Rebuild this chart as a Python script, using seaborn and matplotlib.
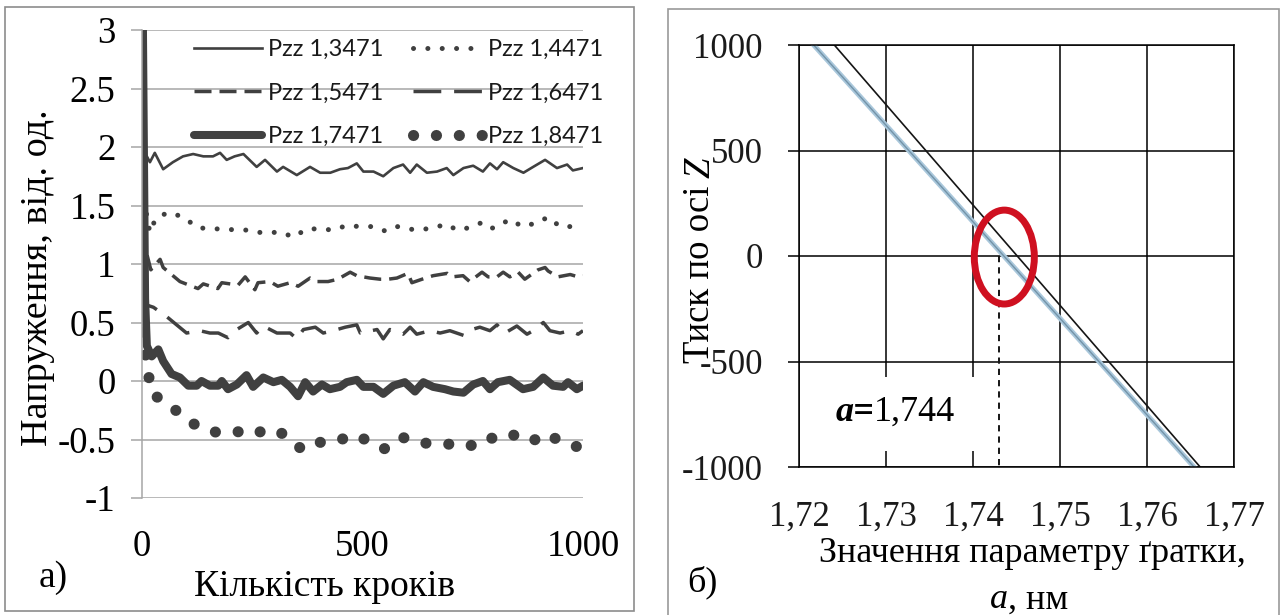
import numpy as np
import pandas as pd
import matplotlib
matplotlib.use("Agg")
import matplotlib.pyplot as plt
import seaborn as sns
from matplotlib import font_manager as fm
from matplotlib.font_manager import FontProperties
from matplotlib.patches import Ellipse, Rectangle

# ---------------- data: panel a) ----------------
steps_1 = [0, 5, 11, 18, 29, 48, 70, 93, 116, 139, 161, 177, 192, 210, 230, 260, 279, 306, 320, 351,
           381, 404, 427, 449, 467, 487, 502, 525, 547, 570, 592, 608, 623, 646, 669, 691, 706, 729, 751, 773,
           789, 805, 819, 842, 865, 887, 914, 941, 964, 977, 1000]
pzz_1 = [4.0, 1.6, 1.92, 1.87, 1.95, 1.81, 1.87, 1.92, 1.94, 1.92, 1.92, 1.95, 1.89, 1.92, 1.94, 1.83, 1.89, 1.79, 1.83, 1.76,
         1.83, 1.78, 1.78, 1.81, 1.82, 1.86, 1.79, 1.79, 1.75, 1.82, 1.85, 1.78, 1.85, 1.78, 1.79, 1.82, 1.76, 1.82, 1.84, 1.79,
         1.86, 1.81, 1.87, 1.82, 1.78, 1.83, 1.89, 1.82, 1.85, 1.80, 1.82]

steps_2 = [0, 5, 11, 18, 30, 45, 67, 97, 127, 158, 185, 215, 243, 267, 295, 317, 343, 374, 405, 433, 465,
           492, 524, 553, 580, 603, 628, 660, 691, 714, 742, 768, 789, 812, 832, 864, 893, 921, 948, 975, 1000]
pzz_2 = [4.0, 1.6, 1.40, 1.27, 1.38, 1.42, 1.44, 1.39, 1.31, 1.30, 1.30, 1.29, 1.29, 1.27, 1.27, 1.27, 1.23, 1.30, 1.30, 1.29, 1.33,
         1.32, 1.32, 1.28, 1.32, 1.30, 1.29, 1.31, 1.34, 1.29, 1.31, 1.35, 1.30, 1.33, 1.38, 1.32, 1.35, 1.40, 1.32, 1.32, 1.33]

steps_3 = [0, 5, 10, 20, 41, 48, 86, 127, 139, 172, 181, 218, 234, 256, 263, 290, 308, 336, 354, 381,
           397, 422, 444, 472, 487, 517, 540, 558, 578, 603, 612, 635, 660, 692, 703, 728, 743, 771, 785, 805,
           819, 834, 853, 868, 898, 914, 921, 943, 971, 989, 1000]
pzz_3 = [4.0, 0.7, 1.1, 0.95, 1.04, 0.97, 0.85, 0.79, 0.83, 0.79, 0.84, 0.82, 0.89, 0.78, 0.84, 0.85, 0.81, 0.84, 0.81, 0.88,
         0.85, 0.85, 0.87, 0.93, 0.90, 0.88, 0.87, 0.87, 0.88, 0.92, 0.84, 0.87, 0.90, 0.92, 0.89, 0.90, 0.85, 0.93, 0.89, 0.89,
         0.93, 0.89, 0.93, 0.87, 0.95, 0.97, 0.94, 0.89, 0.91, 0.89, 0.90]

steps_4 = [0, 5, 10, 26, 56, 101, 131, 154, 173, 195, 215, 241, 260, 275, 306, 336, 351, 366, 393, 411,
           433, 461, 487, 495, 533, 547, 562, 592, 608, 623, 653, 676, 698, 729, 748, 766, 789, 805, 823, 850,
           873, 887, 910, 925, 948, 971, 989, 1000]
pzz_4 = [4.0, 0.5, 0.65, 0.63, 0.55, 0.41, 0.43, 0.41, 0.41, 0.37, 0.44, 0.50, 0.41, 0.47, 0.41, 0.41, 0.36, 0.44, 0.46, 0.41,
         0.43, 0.46, 0.48, 0.41, 0.44, 0.36, 0.44, 0.40, 0.46, 0.40, 0.43, 0.41, 0.43, 0.39, 0.44, 0.46, 0.43, 0.48, 0.41, 0.47,
         0.40, 0.43, 0.50, 0.43, 0.41, 0.43, 0.40, 0.43]

steps_5 = [0, 7, 11, 22, 37, 48, 67, 86, 105, 124, 135, 154, 173, 181, 195, 215, 237, 252, 275, 298,
           317, 336, 354, 370, 388, 408, 426, 449, 464, 487, 502, 525, 547, 570, 596, 619, 638, 660, 687, 706,
           729, 751, 773, 789, 807, 834, 864, 887, 910, 932, 955, 966, 986, 1000]
pzz_5 = [4.0, 0.70, 0.30, 0.21, 0.27, 0.17, 0.06, 0.03, -0.04, -0.04, 0.00, -0.04, -0.04, 0.00, -0.07, -0.03, 0.05, -0.05, 0.03, -0.01,
         0.01, -0.05, -0.13, -0.01, -0.09, -0.03, -0.07, -0.05, -0.01, 0.01, -0.05, -0.05, -0.11, -0.04, -0.01, -0.09, -0.01, -0.05, -0.07, -0.09,
         -0.10, -0.03, 0.00, -0.07, -0.01, 0.01, -0.07, -0.05, 0.03, -0.04, -0.05, -0.01, -0.07, -0.04]

steps_6 = [0, 5, 14, 22, 49, 90, 126, 170, 213, 252, 283, 319, 358, 383, 413, 444, 481, 506, 549, 590,
           617, 664, 705, 742, 780, 810, 841, 882, 916, 957, 984, 1000]
pzz_6 = [1.2, 0.30, 0.07, -0.11, -0.17, -0.29, -0.39, -0.44, -0.43, -0.46, -0.41, -0.45, -0.57, -0.51, -0.53, -0.51, -0.46, -0.50, -0.58, -0.48,
         -0.52, -0.54, -0.54, -0.56, -0.48, -0.50, -0.46, -0.52, -0.45, -0.53, -0.56, -0.55]

series_labels = ["Pzz 1,3471", "Pzz 1,4471", "Pzz 1,5471", "Pzz 1,6471", "Pzz 1,7471", "Pzz 1,8471"]
left_yticks = [3, 2.5, 2, 1.5, 1, 0.5, 0, -0.5, -1]
left_yticklabels = ["3", "2.5", "2", "1.5", "1", "0.5", "0", "-0.5", "-1"]
left_xticks = [0, 500, 1000]

# ---------------- data: panel б) ----------------
a_black = [1.72406, 1.76611]
p_black = [1000, -1000]
a_blue = [1.72169, 1.76540]
p_blue = [1000, -1000]
a_mark = 1.7430
a_text = "1,744"
right_xticks = [1.72, 1.73, 1.74, 1.75, 1.76, 1.77]
right_xticklabels = ["1,72", "1,73", "1,74", "1,75", "1,76", "1,77"]
right_yticks = [-1000, -500, 0, 500, 1000]

# ---------------- fonts (resolved to files) ----------------
def font_path(family, style='normal', weight='normal'):
    return fm.findfont(FontProperties(family=family, style=style, weight=weight), fallback_to_default=True)


SERIF_R = font_path('Liberation Serif')
SERIF_I = font_path('Liberation Serif', style='italic')
SERIF_BI = font_path('Liberation Serif', style='italic', weight='bold')
SANS_R = font_path('Lato')


def fp(path, size):
    return FontProperties(fname=path, size=size)


W, H = 1285, 615
fig = plt.figure(figsize=(W / 100, H / 100), dpi=100)


def fx(px):
    return px / W


def fy(py):
    return 1 - py / H


axL = fig.add_axes([fx(142), fy(498), fx(583) - fx(142), fy(30) - fy(498)])
axR = fig.add_axes([fx(799), fy(467), fx(1234) - fx(799), fy(45) - fy(467)])
axL.set_facecolor('white')
axR.set_facecolor('white')

GRAY = '#404040'
GRID = '#a6a6a6'
styles = [
    dict(linewidth=1.9, linestyle='-'),
    dict(linewidth=3.6, linestyle=(0, (0.01, 2.86)), dash_capstyle='round'),
    dict(linewidth=2.5, linestyle=(0, (4.9, 2.3))),
    dict(linewidth=2.5, linestyle=(0, (8.0, 3.7))),
    dict(linewidth=5.8, linestyle='-', solid_capstyle='round', solid_joinstyle='round'),
    dict(linewidth=8.0, linestyle=(0, (0.01, 2.05)), dash_capstyle='round'),
]
all_steps = [steps_1, steps_2, steps_3, steps_4, steps_5, steps_6]
all_vals = [pzz_1, pzz_2, pzz_3, pzz_4, pzz_5, pzz_6]

for st, vals, lab, sty in zip(all_steps, all_vals, series_labels, styles):
    sns.lineplot(x=st, y=vals, ax=axL, color=GRAY, estimator=None, sort=False, label=lab, **sty)

axL.set_xlim(0, 1000)
axL.set_ylim(-1, 3)
axL.set_yticks(left_yticks)
axL.set_yticklabels(left_yticklabels)
axL.set_xticks(left_xticks)
axL.set_xticklabels([str(v) for v in left_xticks])
for lbl in axL.get_yticklabels() + axL.get_xticklabels():
    lbl.set_fontproperties(fp(SERIF_R, 26.5))
    lbl.set_color('black')
axL.set_axisbelow(True)
axL.grid(axis='y', color=GRID, linewidth=1.1)
axL.grid(axis='x', visible=False)
for side in ['top', 'right', 'bottom']:
    axL.spines[side].set_visible(False)
axL.spines['left'].set_color(GRID)
axL.spines['left'].set_linewidth(1.1)
axL.tick_params(axis='y', direction='out', length=8, width=1.1, color=GRID, pad=11, left=True)
axL.tick_params(axis='x', length=0, pad=23)
axL.set_xlabel('')
axL.set_ylabel('')

h = axL.get_lines()
order = [0, 2, 4, 1, 3, 5]
leg = axL.legend(handles=[h[i] for i in order], labels=[series_labels[i] for i in order],
                 loc='upper left', bbox_to_anchor=(fx(194), fy(39)), bbox_transform=fig.transFigure,
                 ncol=2, frameon=False, prop=fp(SANS_R, 17),
                 handlelength=2.9, handletextpad=0.25, columnspacing=1.25, labelspacing=0.95,
                 borderpad=0, borderaxespad=0)
for t in leg.get_texts():
    t.set_color('#1a1a1a')

fig.text(fx(38), fy(278), 'Напруження, від. од.', rotation=90, ha='center', va='center',
         fontproperties=fp(SERIF_R, 27.5))
fig.text(fx(325), fy(587), 'Кількість кроків', ha='center', va='center', fontproperties=fp(SERIF_R, 27))
fig.text(fx(53), fy(578), 'а)', ha='center', va='center', fontproperties=fp(SERIF_R, 27))

# ---------------- panel б) ----------------
sns.lineplot(x=a_blue, y=p_blue, ax=axR, color='#a9c7db', linewidth=3.6, estimator=None, sort=False, zorder=2)
sns.lineplot(x=a_blue, y=p_blue, ax=axR, color='#7393a8', linewidth=1.0, estimator=None, sort=False, zorder=2.1)
sns.lineplot(x=a_black, y=p_black, ax=axR, color='#151515', linewidth=1.2, estimator=None, sort=False, zorder=2.2)
sns.lineplot(x=[a_mark, a_mark], y=[0, -1000], ax=axR, color='#151515', linewidth=1.4,
             linestyle=(0, (3.2, 2.6)), estimator=None, sort=False, zorder=2.3)

axR.set_xlim(1.72, 1.77)
axR.set_ylim(-1000, 1000)
axR.set_xticks(right_xticks)
axR.set_xticklabels(right_xticklabels)
axR.set_yticks(right_yticks)
axR.set_yticklabels([str(v) for v in right_yticks])
for lbl in axR.get_yticklabels() + axR.get_xticklabels():
    lbl.set_fontproperties(fp(SERIF_R, 25))
    lbl.set_color('#1a1a1a')
axR.set_axisbelow(True)
axR.grid(True, color='black', linewidth=1.1)
for side in ['top', 'right', 'bottom', 'left']:
    axR.spines[side].set_color('black')
    axR.spines[side].set_linewidth(1.1)
axR.tick_params(axis='y', direction='out', length=8, width=1.1, color='black', pad=18, left=True)
axR.tick_params(axis='x', length=0, pad=24)
axR.set_xlabel('')
axR.set_ylabel('')
if axR.get_legend():
    axR.get_legend().remove()

axR.add_patch(Rectangle((1.7238, -922), 0.0178, 350, facecolor='white', edgecolor='none', zorder=1.5))
t1 = axR.text(1.7242, -742, 'a=', ha='left', va='center', zorder=3, fontproperties=fp(SERIF_BI, 26))
axR.annotate(a_text, xy=(1, 0), xycoords=t1, ha='left', va='bottom', zorder=3, fontproperties=fp(SERIF_R, 26))
axR.add_patch(Ellipse((1.7436, -5), 0.0069, 445, fill=False, edgecolor='#cf1020', linewidth=5, zorder=4))

ty = fig.text(fx(700), fy(274), 'Тиск по осі', rotation=90, ha='center', va='center', fontproperties=fp(SERIF_R, 26.5))
axR.annotate('Z', xy=(0.5, 1.0), xycoords=ty, xytext=(0, 5), textcoords='offset points', rotation=90,
             ha='center', va='bottom', fontproperties=fp(SERIF_I, 26.5), annotation_clip=False)
fig.text(fx(1032), fy(553), 'Значення параметру ґратки,', ha='center', va='center', fontproperties=fp(SERIF_R, 26))
tx = fig.text(fx(990), fy(600), 'a', ha='left', va='center', fontproperties=fp(SERIF_I, 26))
axR.annotate(', нм', xy=(1.0, 0.0), xycoords=tx, ha='left', va='bottom', fontproperties=fp(SERIF_R, 26),
             annotation_clip=False)
fig.text(fx(702), fy(582), 'б)', ha='center', va='center', fontproperties=fp(SERIF_R, 26))

# panel frames
fig.patches.append(Rectangle((fx(5), fy(611)), fx(634) - fx(5), fy(7) - fy(611), transform=fig.transFigure,
                             fill=False, edgecolor='#8c8c8c', linewidth=1.2))
fig.patches.append(Rectangle((fx(668), fy(630)), fx(1279) - fx(668), fy(9) - fy(630), transform=fig.transFigure,
                             fill=False, edgecolor='#9a9a9a', linewidth=1.2))

fig.savefig('out.png', dpi=100, facecolor='white')
